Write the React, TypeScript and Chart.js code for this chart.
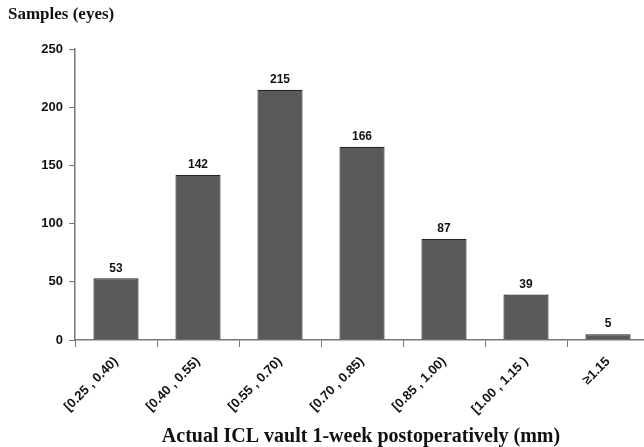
import React, { useEffect, useRef } from "react";
import { Chart, registerables } from "chart.js";

Chart.register(...registerables);

const categories = ["[0.25 , 0.40)", "[0.40 , 0.55)", "[0.55 , 0.70)", "[0.70 , 0.85)", "[0.85 , 1.00)", "[1.00 , 1.15 )", "≥1.15"];
const samples = [53, 142, 215, 166, 87, 39, 5];
const yTicks = [0, 50, 100, 150, 200, 250];
const yTitle = "Samples (eyes)";
const xTitle = "Actual ICL vault 1-week postoperatively (mm)";

const labelsPlugin = {
  id: "customLabels",
  afterDatasetsDraw(chart: any) {
    const ctx = chart.ctx;
    const meta = chart.getDatasetMeta(0);
    ctx.save();
    ctx.fillStyle = "#111";
    ctx.font = "bold 12px 'Liberation Sans', sans-serif";
    ctx.textAlign = "center";
    ctx.textBaseline = "bottom";
    meta.data.forEach((bar: any, i: number) => {
      ctx.fillText(String(samples[i]), bar.x, bar.y - 4);
    });
    ctx.font = "bold 17px 'Liberation Serif', serif";
    ctx.textAlign = "left";
    ctx.textBaseline = "middle";
    ctx.fillText(yTitle, 8, 15);
    ctx.font = "bold 20px 'Liberation Serif', serif";
    ctx.textAlign = "center";
    ctx.fillText(xTitle, 361, 437);
    ctx.restore();
  },
};

export default function App() {
  const ref = useRef<HTMLCanvasElement>(null);
  useEffect(() => {
    if (!ref.current) return;
    const chart = new Chart(ref.current, {
      type: "bar",
      data: {
        labels: categories,
        datasets: [
          {
            data: samples,
            backgroundColor: "#595959",
            borderColor: "#262626",
            borderWidth: 1.2,
            barPercentage: 0.55,
            categoryPercentage: 1,
          },
        ],
      },
      options: {
        responsive: false,
        animation: false,
        layout: { padding: { top: 49, left: 0, right: 11, bottom: 0 } },
        plugins: { legend: { display: false }, tooltip: { enabled: false }, title: { display: false } },
        scales: {
          x: {
            grid: { display: true, drawOnChartArea: false, offset: true, tickLength: 7, color: "#777" },
            border: { display: true, color: "#777", width: 1.5 },
            ticks: {
              minRotation: 45,
              maxRotation: 45,
              padding: 7,
              color: "#111",
              font: { family: "'Liberation Sans', sans-serif", weight: "bold", size: 13 },
            },
            afterFit(scale: any) {
              scale.height = 107;
            },
          },
          y: {
            min: 0,
            max: 250,
            afterBuildTicks(scale: any) {
              scale.ticks = yTicks.map((v) => ({ value: v }));
            },
            grid: { display: true, drawOnChartArea: false, tickLength: 6, color: "#777" },
            border: { display: true, color: "#777", width: 1.5 },
            ticks: {
              color: "#111",
              padding: 6,
              font: { family: "'Liberation Sans', sans-serif", weight: "bold", size: 13 },
            },
            afterFit(scale: any) {
              scale.width = 75;
            },
          },
        },
      },
      plugins: [labelsPlugin],
    });
    return () => chart.destroy();
  }, []);
  return (
    <div style={{ position: "fixed", left: 0, top: 0, width: 660, height: 447, background: "#fff" }}>
      <canvas ref={ref} width={660} height={447} style={{ display: "block" }} />
    </div>
  );
}
